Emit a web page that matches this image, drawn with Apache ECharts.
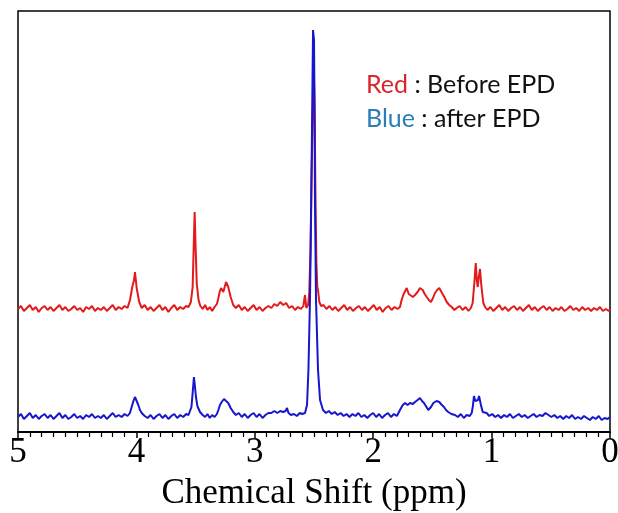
<!DOCTYPE html>
<html>
<head>
<meta charset="utf-8">
<script src="https://cdn.jsdelivr.net/npm/echarts@6/dist/echarts.min.js"></script>
<style>
  html, body { margin: 0; padding: 0; background: #fff; }
  #main { width: 618px; height: 513px; }
</style>
</head>
<body>
<div id="main"></div>
<script>
// x axis ticks (ppm), shown reversed like an NMR plot
const xTicks = [5, 4, 3, 2, 1, 0];

// red spectrum : before EPD  [ppm, intensity]
const redBefore = [
  [5.000,123],[4.975,126],[4.950,121],[4.925,124],[4.900,127],[4.875,122],[4.850,125],[4.825,120],[4.800,124],[4.775,126],
  [4.750,122],[4.725,125],[4.700,121],[4.675,124],[4.650,127],[4.625,122],[4.600,125],[4.575,121],[4.550,123],[4.525,126],
  [4.500,122],[4.475,124],[4.450,120],[4.425,125],[4.400,123],[4.375,126],[4.350,121],[4.325,124],[4.300,122],[4.275,125],
  [4.250,121],[4.225,124],[4.200,127],[4.175,122],[4.150,125],[4.125,123],[4.100,126],[4.075,124],
  [4.054,132],[4.035,145],[4.020,152],[4.012,160],[3.998,144],[3.976,130],[3.955,124],
  [3.930,127],[3.905,122],[3.880,125],[3.855,121],[3.830,124],[3.805,127],[3.780,122],[3.755,125],[3.730,120],[3.705,124],
  [3.680,127],[3.655,122],[3.630,125],[3.605,123],[3.580,126],[3.560,125],
  [3.540,130],[3.525,145],[3.515,190],[3.508,220],[3.500,185],[3.490,148],[3.475,132],[3.460,126],
  [3.440,123],[3.420,127],[3.400,122],[3.380,125],[3.360,121],[3.340,125],[3.320,128],
  [3.311,132],[3.297,140],[3.285,144],[3.266,140],[3.243,150],[3.224,145],[3.204,135],[3.182,127],
  [3.160,124],[3.135,127],[3.110,122],[3.085,125],[3.060,121],[3.035,124],[3.010,127],[2.985,122],[2.960,125],[2.935,121],
  [2.910,124],[2.885,126],[2.860,124],[2.835,128],[2.810,126],[2.785,130],[2.760,127],[2.735,129],[2.710,124],[2.685,126],
  [2.660,122],[2.635,125],[2.610,123],[2.590,126],[2.576,137],[2.565,124],[2.550,127],[2.540,140],
  [2.530,180],[2.520,260],[2.508,330],[2.500,354],[2.494,320],[2.488,240],[2.480,170],[2.472,145],[2.466,142],[2.455,130],[2.440,126],
  [2.420,127],[2.395,123],[2.370,126],[2.345,122],[2.320,125],[2.295,121],[2.270,124],[2.245,127],[2.220,122],[2.195,125],
  [2.170,121],[2.145,124],[2.120,126],[2.095,122],[2.070,125],[2.045,121],[2.020,124],[1.995,127],[1.970,122],[1.945,125],
  [1.920,120],[1.895,124],[1.870,126],[1.845,122],[1.820,125],[1.795,123],
  [1.774,125],[1.760,132],[1.746,137],[1.730,141],[1.717,144],[1.700,138],[1.689,139],[1.665,135],[1.647,137],[1.625,140],
  [1.605,144],[1.582,142],[1.565,138],[1.548,135],[1.530,132],[1.512,130],[1.495,134],[1.478,139],[1.460,142],[1.442,144],
  [1.428,141],[1.413,139],[1.395,134],[1.379,130],[1.358,127],[1.337,125],[1.315,122],[1.295,124],[1.270,126],[1.245,122],
  [1.220,125],[1.195,121],[1.175,124],
  [1.160,129],[1.145,150],[1.134,169],[1.125,152],[1.117,145],[1.108,155],[1.098,163],[1.088,148],[1.070,129],[1.055,125],
  [1.035,122],[1.010,125],[0.985,121],[0.960,124],[0.935,127],[0.910,122],[0.885,125],[0.860,121],[0.835,124],[0.810,126],
  [0.785,122],[0.760,125],[0.735,121],[0.710,124],[0.685,127],[0.660,122],[0.635,125],[0.610,121],[0.585,124],[0.560,126],
  [0.535,122],[0.510,125],[0.485,121],[0.460,124],[0.435,122],[0.410,125],[0.385,121],[0.360,123],[0.335,126],[0.310,122],
  [0.285,124],[0.260,121],[0.235,125],[0.210,122],[0.185,124],[0.160,121],[0.135,124],[0.110,122],[0.085,125],[0.060,121],
  [0.035,123],[0.010,121],[0.000,123]
];

// blue spectrum : after EPD  [ppm, intensity]
const blueAfter = [
  [5.000,15],[4.975,18],[4.950,13],[4.925,16],[4.900,19],[4.875,14],[4.850,17],[4.825,13],[4.800,16],[4.775,18],
  [4.750,14],[4.725,17],[4.700,13],[4.675,16],[4.650,19],[4.625,14],[4.600,17],[4.575,13],[4.550,15],[4.525,18],
  [4.500,14],[4.475,16],[4.450,13],[4.425,17],[4.400,15],[4.375,18],[4.350,14],[4.325,16],[4.300,14],[4.275,17],
  [4.250,13],[4.225,16],[4.200,19],[4.175,15],[4.150,17],[4.125,15],[4.100,18],[4.075,16],
  [4.055,19],[4.040,25],[4.025,31],[4.012,35],[3.998,31],[3.984,27],[3.970,22],[3.955,19],
  [3.930,16],[3.905,14],[3.880,17],[3.855,13],[3.830,16],[3.805,18],[3.780,14],[3.755,17],[3.730,13],[3.705,16],
  [3.680,18],[3.655,14],[3.630,17],[3.605,15],[3.580,18],[3.560,17],
  [3.547,19],[3.535,25],[3.525,39],[3.514,55],[3.505,45],[3.497,35],[3.485,26],[3.463,20],
  [3.440,17],[3.420,15],[3.400,18],[3.380,14],[3.360,17],[3.340,15],[3.320,18],
  [3.308,22],[3.294,27],[3.280,30],[3.260,33],[3.243,31],[3.224,29],[3.204,24],[3.182,20],
  [3.160,17],[3.135,19],[3.110,15],[3.085,18],[3.060,14],[3.035,17],[3.010,19],[2.985,15],[2.960,18],[2.935,14],
  [2.910,17],[2.885,19],[2.860,19],[2.835,21],[2.810,19],[2.785,21],[2.760,20],[2.740,21],[2.728,24],[2.715,19],
  [2.695,17],[2.670,18],[2.645,16],[2.620,19],[2.600,18],[2.576,19],
  [2.559,27],[2.547,62],[2.534,132],[2.525,212],[2.517,302],[2.508,402],[2.500,392],[2.496,332],[2.492,232],[2.483,132],
  [2.466,62],[2.449,32],[2.424,22],[2.399,19],
  [2.375,21],[2.350,18],[2.325,20],[2.300,17],[2.275,19],[2.250,16],[2.225,18],[2.200,15],[2.175,18],[2.150,16],
  [2.125,19],[2.100,15],[2.075,17],[2.050,14],[2.025,17],[2.000,19],[1.975,15],[1.950,18],[1.925,14],[1.900,17],
  [1.875,19],[1.850,15],[1.825,18],[1.800,16],
  [1.774,22],[1.750,27],[1.731,29],[1.710,27],[1.689,29],[1.665,28],[1.647,30],[1.625,32],[1.605,34],[1.588,31],
  [1.571,29],[1.550,25],[1.535,22],[1.512,25],[1.492,29],[1.465,31],[1.442,30],[1.420,27],[1.402,25],[1.385,22],
  [1.366,20],[1.340,18],[1.309,17],[1.285,15],[1.260,18],[1.235,14],[1.210,17],[1.185,16],
  [1.168,19],[1.158,26],[1.149,36],[1.138,31],[1.126,29],[1.115,32],[1.106,36],[1.090,27],[1.075,20],[1.042,19],
  [1.020,16],[0.995,18],[0.970,15],[0.945,17],[0.920,14],[0.895,17],[0.870,15],[0.845,18],[0.820,14],[0.795,16],
  [0.770,18],[0.745,15],[0.720,17],[0.695,14],[0.670,16],[0.645,18],[0.620,15],[0.595,17],[0.570,16],[0.545,19],
  [0.535,20],[0.520,17],[0.495,15],[0.470,17],[0.445,14],[0.420,16],[0.395,13],[0.370,16],[0.345,14],[0.320,17],
  [0.295,13],[0.270,15],[0.245,13],[0.220,16],[0.195,14],[0.170,12],[0.145,15],[0.120,13],[0.095,16],[0.070,12],
  [0.045,14],[0.020,13],[0.000,15]
];

const chart = echarts.init(document.querySelector('#main'));

let option = {
  animation: false,
  title: [
    {
      text: '{r|Red} : Before EPD',
      left: 361,
      top: 67,
      textStyle: {
        fontFamily: 'Lato', fontSize: 25, fontWeight: 'normal', color: '#111',
        rich: { r: { color: '#d9262e', fontFamily: 'Lato', fontSize: 25 } }
      }
    },
    {
      text: '{b|Blue} : after EPD',
      left: 361,
      top: 101,
      textStyle: {
        fontFamily: 'Lato', fontSize: 25, fontWeight: 'normal', color: '#111',
        rich: { b: { color: '#2a7db8', fontFamily: 'Lato', fontSize: 25 } }
      }
    }
  ],
  grid: {
    left: 18, right: 8, top: 11, bottom: 81,
    outerBoundsMode: 'none',
    containLabel: false,
    show: true, borderColor: '#000', borderWidth: 1.5, backgroundColor: '#fff'
  },
  xAxis: {
    type: 'value',
    inverse: true,
    min: 0, max: 5, interval: 1,
    name: 'Chemical Shift (ppm)',
    nameLocation: 'middle',
    nameGap: 44,
    nameTextStyle: { fontFamily: 'Liberation Serif', fontSize: 35, color: '#000' },
    axisLine: { show: true, lineStyle: { color: '#000', width: 2 } },
    axisTick: { show: true, inside: false, length: 6, lineStyle: { color: '#000', width: 1.5 } },
    minorTick: { show: true, splitNumber: 10, length: 5, lineStyle: { color: '#000', width: 1.2 } },
    splitLine: { show: false },
    axisLabel: {
      fontFamily: 'Liberation Serif', fontSize: 35, color: '#000', margin: 3,
      formatter: (v) => xTicks.includes(v) ? String(v) : ''
    }
  },
  yAxis: {
    type: 'value',
    min: 0, max: 421,
    show: false
  },
  series: [
    {
      name: 'Before EPD',
      type: 'line',
      data: redBefore,
      showSymbol: false,
      lineStyle: { color: '#e21a1a', width: 2 },
      z: 2
    },
    {
      name: 'after EPD',
      type: 'line',
      data: blueAfter,
      showSymbol: false,
      lineStyle: { color: '#1616cc', width: 2 },
      z: 3
    }
  ]
};

chart.setOption(option);
</script>
</body>
</html>
